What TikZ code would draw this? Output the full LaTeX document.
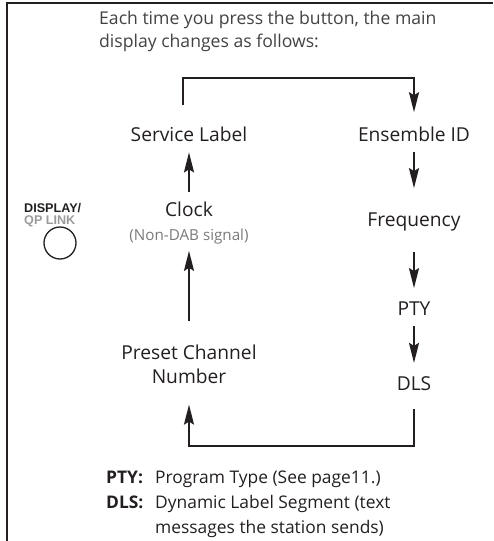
\documentclass[tikz,border=0pt]{standalone}
\usepackage{fontspec}
\setmainfont{Open Sans}
\newfontfamily\keyfont{Liberation Sans}
\usetikzlibrary{arrows.meta,positioning}
\definecolor{ink}{HTML}{231F20}
\definecolor{softgrey}{HTML}{7A7A7A}
\definecolor{keygrey}{HTML}{9A9A9A}

\begin{document}
\begin{tikzpicture}[x=1pt, y=-1pt, >={Stealth[length=20pt,width=10pt,inset=3pt]},
    lbl/.style={inner sep=0pt, anchor=base, text=ink, font=\fontsize{19.2}{22}\selectfont},
    flow/.style={line width=1.9pt, draw=ink}]
    \useasboundingbox (0,0) rectangle (493,541);
    \draw[line width=2pt, ink] (7,541) -- (7,3) -- (493,3);

    \node[inner sep=0pt, anchor=north west, align=left, text=ink!85,
          font=\fontsize{17.6}{23}\selectfont] (title) at (99,11)
          {Each time you press the button, the main\\display changes as follows:};

    % the display modes
    \node[lbl] (svc) at (189,141) {Service Label};
    \node[lbl] (ens) at (414,141) {Ensemble ID};
    \node[lbl] (clock) at (189,216) {Clock};
    \node[lbl, text=softgrey, font=\fontsize{15.2}{17}\selectfont] (nondab) at (189,240) {(Non-DAB signal)};
    \node[lbl] (freq) at (414,226) {Frequency};
    \node[lbl] (pty) at (414,315) {PTY};
    \node[lbl, align=center, anchor=center, font=\fontsize{19.2}{24}\selectfont] (preset) at (189,364) {Preset Channel\\Number};
    \node[lbl] (dls) at (414,390) {DLS};

    \draw[flow, ->, shorten <=21pt, shorten >=14pt] ([xshift=-6pt]svc.north) -- ++(0,-48) -| (ens.north);
    \draw[flow, ->, shorten <=11pt, shorten >=24pt] (ens.south) -- (freq.north);
    \draw[flow, ->, shorten <=21pt, shorten >=13pt] (freq.south) -- (pty.north);
    \draw[flow, ->, shorten <=11pt, shorten >=13pt] (pty.south) -- (dls.north);
    \draw[flow, ->, shorten <=19pt, shorten >=21pt] (dls.south) -- ++(0,56) -| (preset.south);
    \draw[flow, ->, shorten <=23pt, shorten >=7pt] (preset.north) -- (nondab.south);
    \draw[flow, ->, shorten <=9pt, shorten >=11pt] (clock.north) -- (svc.south);

    % the button
    \node[inner sep=0pt, anchor=north west, align=left, font=\keyfont\bfseries\fontsize{12.6}{12}\selectfont, text=ink] (key) at (24,203)
          {DISPLAY/\\\textcolor{keygrey}{QP LINK}};
    \node[draw=ink, circle, line width=1.3pt, minimum size=32pt, inner sep=0pt] (btn) at (60,243) {};

    % notes
    \node[inner sep=0pt, anchor=base west, text=ink, font=\bfseries\fontsize{17.4}{25}\selectfont] (ptykey) at (106,483) {PTY:};
    \node[inner sep=0pt, anchor=base west, text=ink, font=\bfseries\fontsize{17.4}{25}\selectfont] (dlskey) at (106,508) {DLS:};
    \node[inner sep=0pt, anchor=base west, text=ink, font=\fontsize{17.4}{25}\selectfont] (ptynote) at (155,483) {Program Type (See page11.)};
    \node[inner sep=0pt, anchor=north west, align=left, text=ink, font=\fontsize{17.4}{25}\selectfont] (dlsnote) at (155,495) {Dynamic Label Segment (text\\messages the station sends)};
\end{tikzpicture}
\end{document}
